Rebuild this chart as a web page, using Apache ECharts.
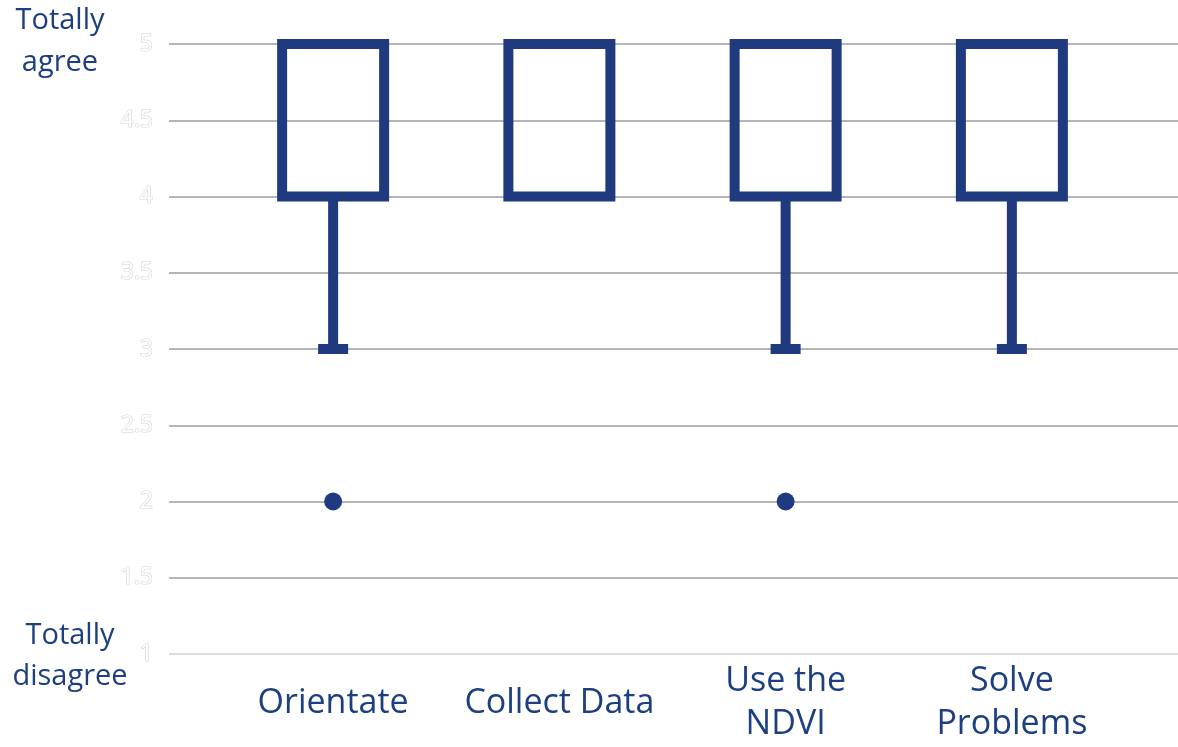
<!DOCTYPE html>
<html>
<head>
<meta charset="utf-8">
<script src="https://cdn.jsdelivr.net/npm/echarts@6/dist/echarts.min.js"></script>
<style>
html,body{margin:0;padding:0;background:#fff;}
#chart{width:1178px;height:747px;}
</style>
</head>
<body>
<div id="chart"></div>
<script>
const categories = ['Orientate', 'Collect Data', 'Use the\nNDVI', 'Solve\nProblems'];
// [min, Q1, median, Q3, max]
const boxValues = [
  [3, 4, 5, 5, 5],
  [4, 4, 5, 5, 5],
  [3, 4, 5, 5, 5],
  [3, 4, 5, 5, 5]
];
// [category index, value]
const outliers = [[0, 2], [2, 2]];
const yTicks = [1, 1.5, 2, 2.5, 3, 3.5, 4, 4.5, 5];

const BLUE = '#1f3a7e';
const TEXT = '#1c3f80';
const FONT = '"Open Sans", "Noto Sans", sans-serif';

const chart = echarts.init(document.getElementById('chart'));

const boxData = boxValues.map((v, i) => [i].concat(v));

function renderBox(params, api) {
  const idx = api.value(0);
  const mn = api.value(1), q1 = api.value(2), q3 = api.value(4), mx = api.value(5);
  const pQ1 = api.coord([idx, q1]);
  const pQ3 = api.coord([idx, q3]);
  const pMin = api.coord([idx, mn]);
  const pMax = api.coord([idx, mx]);
  const x = pQ1[0];
  const halfW = 51;
  const capHalf = 15;
  const children = [];
  const lineStyle = { stroke: BLUE, lineWidth: 10, fill: null };
  if (mn < q1) {
    children.push({ type: 'line', shape: { x1: x, y1: pQ1[1], x2: x, y2: pMin[1] }, style: lineStyle });
    children.push({ type: 'line', shape: { x1: x - capHalf, y1: pMin[1], x2: x + capHalf, y2: pMin[1] }, style: lineStyle });
  }
  if (mx > q3) {
    children.push({ type: 'line', shape: { x1: x, y1: pQ3[1], x2: x, y2: pMax[1] }, style: lineStyle });
    children.push({ type: 'line', shape: { x1: x - capHalf, y1: pMax[1], x2: x + capHalf, y2: pMax[1] }, style: lineStyle });
  }
  children.push({
    type: 'rect',
    shape: { x: x - halfW, y: pQ3[1], width: halfW * 2, height: pQ1[1] - pQ3[1] },
    style: { stroke: BLUE, lineWidth: 10, fill: 'none', lineJoin: 'miter' }
  });
  return { type: 'group', children: children };
}

const option = {
  backgroundColor: '#fff',
  animation: false,
  grid: [
    { left: 169, right: 0, top: 44, bottom: 93 },
    { left: 220, right: 53, top: 44, bottom: 93 }
  ],
  xAxis: [
    { gridIndex: 0, type: 'value', min: 0, max: 1, show: false },
    {
      gridIndex: 1, type: 'category', data: categories, boundaryGap: true,
      axisLine: { show: false }, axisTick: { show: false },
      axisLabel: {
        color: TEXT, fontFamily: FONT, fontSize: 34, lineHeight: 43,
        margin: 49, verticalAlign: 'middle', interval: 0
      }
    }
  ],
  yAxis: [
    {
      gridIndex: 0, type: 'value', min: 1, max: 5, interval: 0.5,
      axisLine: { show: false }, axisTick: { show: false },
      axisLabel: {
        color: '#ffffff', textBorderColor: '#d2d2d2', textBorderWidth: 1.2,
        fontFamily: FONT, fontSize: 23, margin: 16,
        formatter: v => String(v)
      },
      splitLine: {
        lineStyle: {
          width: 2,
          color: yTicks.map(t => t === 1 ? '#dcdcdc' : '#b5b5b5')
        }
      }
    },
    { gridIndex: 1, type: 'value', min: 1, max: 5, interval: 0.5, show: false }
  ],
  graphic: [
    {
      type: 'text', x: 60, y: 42,
      style: {
        text: 'Totally\nagree', fill: TEXT, font: '29px ' + FONT,
        textAlign: 'center', textVerticalAlign: 'middle', lineHeight: 42
      }
    },
    {
      type: 'text', x: 70, y: 656,
      style: {
        text: 'Totally\ndisagree', fill: TEXT, font: '29px ' + FONT,
        textAlign: 'center', textVerticalAlign: 'middle', lineHeight: 41
      }
    }
  ],
  series: [
    {
      type: 'custom', xAxisIndex: 1, yAxisIndex: 1,
      data: boxData, renderItem: renderBox,
      encode: { x: 0, y: [1, 2, 3, 4, 5] }
    },
    {
      type: 'scatter', xAxisIndex: 1, yAxisIndex: 1,
      data: outliers, symbol: 'circle', symbolSize: 18,
      itemStyle: { color: BLUE, opacity: 1 }
    }
  ]
};
chart.setOption(option);
</script>
</body>
</html>
